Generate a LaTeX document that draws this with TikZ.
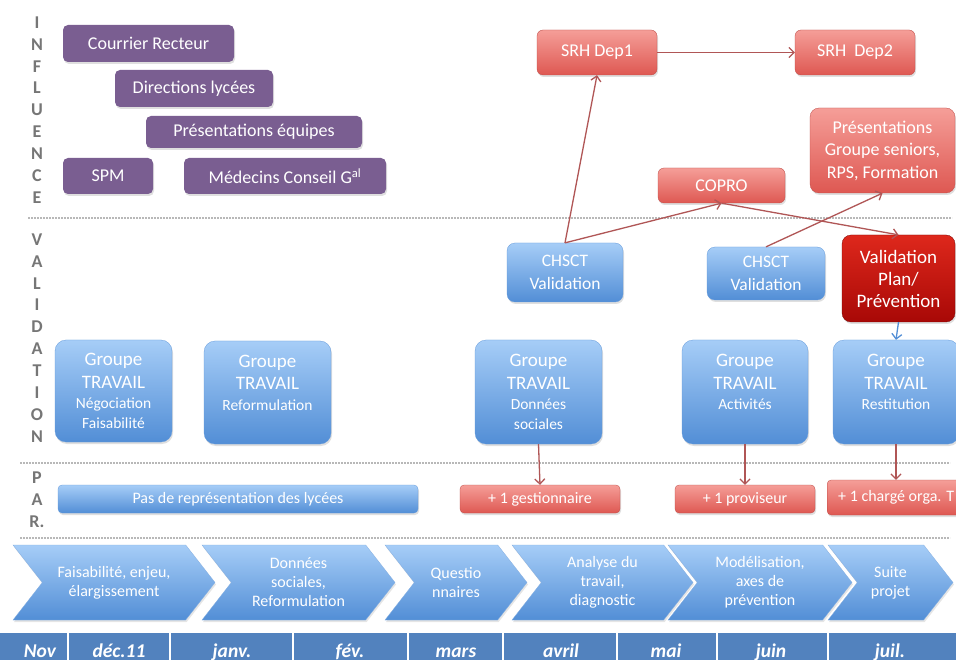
\documentclass[tikz,border=0pt]{standalone}
\usepackage{fontspec}
\setmainfont{Carlito}
\usetikzlibrary{calc,shapes,shapes.symbols,shadows,arrows,arrows.meta}

\definecolor{mauvebox}{RGB}{122,94,145}
\definecolor{rougeclair}{RGB}{245,158,152}
\definecolor{rougefonce}{RGB}{222,88,82}
\definecolor{rougevif}{RGB}{222,40,28}
\definecolor{rougesombre}{RGB}{168,8,6}
\definecolor{bleuclair}{RGB}{166,205,247}
\definecolor{bleufonce}{RGB}{82,142,214}
\definecolor{moisbleu}{RGB}{82,130,190}
\definecolor{flechecol}{RGB}{176,86,86}
\definecolor{lettres}{RGB}{118,118,118}
\newcommand{\petitfont}{\fontsize{15.5}{19}\selectfont}

\begin{document}
\begin{tikzpicture}[x=1pt,y=-1pt,>={Straight Barb[length=5pt,width=10pt]},
  sidelab/.style={text=lettres, font=\fontsize{18}{21.9}\bfseries\selectfont, align=center, inner sep=0pt},
  mauve/.style={rectangle, rounded corners=5pt, fill=mauvebox, text=white, inner sep=0pt,
    font=\fontsize{18}{22}\selectfont, drop shadow={opacity=0.25,shadow xshift=1pt,shadow yshift=-2pt}},
  rouge/.style={rectangle, rounded corners=6pt, top color=rougeclair, bottom color=rougefonce,
    draw=rougefonce!85!black, line width=0.3pt, text=white, inner sep=0pt, align=center,
    font=\fontsize{18}{22.5}\selectfont, drop shadow={opacity=0.25,shadow xshift=1pt,shadow yshift=-2pt}},
  rougeplan/.style={rouge, rounded corners=9pt, top color=rougevif, bottom color=rougesombre,
    draw=rougesombre!70!black, font=\fontsize{19}{22}\selectfont},
  bleu/.style={rectangle, rounded corners=8pt, top color=bleuclair, bottom color=bleufonce,
    draw=bleufonce!90, line width=0.3pt, text=white, inner sep=0pt, align=center,
    font=\fontsize{17.5}{23}\selectfont, drop shadow={opacity=0.25,shadow xshift=1pt,shadow yshift=-2pt}},
  groupe/.style={bleu, rounded corners=11pt, font=\fontsize{19}{22.5}\selectfont},
  barre/.style={bleu, rounded corners=4pt, font=\fontsize{16}{19}\selectfont},
  petitrouge/.style={rouge, rounded corners=4pt, font=\fontsize{16}{19}\selectfont},
  etape/.style={signal, signal from=west, signal to=east, signal pointer angle=104,
    top color=bleuclair, bottom color=bleufonce, draw=bleufonce!70, line width=0.3pt,
    text=white, inner sep=0pt, align=center, minimum height=75pt,
    font=\fontsize{16}{19}\selectfont, drop shadow={opacity=0.2,shadow xshift=1pt,shadow yshift=-2pt}},
  mois/.style={text=white, font=\fontsize{19.5}{22}\bfseries\itshape\selectfont, inner sep=0pt, anchor=base},
  sep/.style={draw=black!28, dash pattern=on 2pt off 1pt, line width=1.4pt},
  fleche/.style={draw=flechecol, line width=1.3pt, ->}
]
  \useasboundingbox (0,0) rectangle (956,660);
  \clip (0,0) rectangle (956,660);
  \fill[white] (0,0) rectangle (956,660);

  % bandes
  \node[sidelab] (infl) at (37,110) {I\\N\\F\\L\\U\\E\\N\\C\\E};
  \node[sidelab] (valid) at (37,338) {V\\A\\L\\I\\D\\A\\T\\I\\O\\N};
  \node[sidelab] (par) at (37,500) {P\\A\\R.};
  \draw[sep] (28,218) -- (952,218);
  \draw[sep] (20,463) -- (950,463);
  \draw[sep] (20,538) -- (950,538);

  % influence
  \node[mauve, minimum width=171pt, minimum height=37pt] (courrier) at (148.5,43.5) {Courrier Recteur};
  \node[mauve, minimum width=158pt, minimum height=37pt] (directions) at (194,88.5) {Directions lycées};
  \node[mauve, minimum width=216pt, minimum height=32pt] (presequipes) at (254,132) {Présentations équipes};
  \node[mauve, minimum width=90pt, minimum height=36pt] (spm) at (108,176) {SPM};
  \node[mauve, minimum width=202pt, minimum height=36pt] (medecins) at (285,176) {Médecins Conseil G\textsuperscript{al}};

  \node[rouge, minimum width=120pt, minimum height=45pt] (srhA) at (597,52.5) {SRH Dep1};
  \node[rouge, minimum width=120pt, minimum height=45pt] (srhB) at (855,52.5) {SRH~~Dep2};
  \node[rouge, rounded corners=9pt, minimum width=145pt, minimum height=85pt] (presgroupe) at (882.5,150.5) {Présentations\\Groupe seniors,\\RPS, Formation};
  \node[rouge, minimum width=127pt, minimum height=35pt] (copro) at (721.5,185.5) {COPRO};

  % validation
  \node[bleu, minimum width=116pt, minimum height=59pt] (chsctA) at (565,272.5) {CHSCT\\Validation};
  \node[bleu, minimum width=118pt, minimum height=53pt] (chsctB) at (766,273.5) {CHSCT\\Validation};
  \node[rougeplan, minimum width=113pt, minimum height=87pt] (valplan) at (898.5,278.5) {Validation\\Plan/\\Prévention};

  \node[groupe, minimum width=117pt, minimum height=102pt] (grpA) at (113.5,391) {Groupe\\TRAVAIL\\[-2pt]{\petitfont Négociation}\\[-3pt]{\petitfont Faisabilité}};
  \node[groupe, minimum width=127pt, minimum height=103pt] (grpB) at (267.5,392.5) {Groupe\\TRAVAIL\\[-2pt]{\petitfont Reformulation}\\[-3pt]~};
  \node[groupe, minimum width=127pt, minimum height=104pt] (grpC) at (538.5,392) {Groupe\\TRAVAIL\\[-2pt]{\petitfont Données}\\[-3pt]{\petitfont sociales}};
  \node[groupe, minimum width=126pt, minimum height=104pt] (grpD) at (745,392) {Groupe\\TRAVAIL\\[-2pt]{\petitfont Activités}\\[-3pt]~};
  \node[groupe, minimum width=126pt, minimum height=104pt] (grpE) at (896,392) {Groupe\\TRAVAIL\\[-2pt]{\petitfont Restitution}\\[-3pt]~};

  % participation
  \node[barre, minimum width=360pt, minimum height=28pt] (pasrep) at (238,499) {Pas de représentation des lycées};
  \node[petitrouge, minimum width=160pt, minimum height=28pt] (gest) at (540,499) {+ 1 gestionnaire};
  \node[petitrouge, minimum width=140pt, minimum height=28pt] (prov) at (745,499) {+ 1 proviseur};
  \node[petitrouge, minimum width=138pt, minimum height=35pt, anchor=west] (charge) at (827,497.5) {+ 1 chargé orga. T};

  % fleches
  \draw[fleche] (srhA) -- (srhB);
  \draw[fleche] (chsctA.north) -- (srhA.south);
  \draw[fleche] (chsctA.north) -- (copro.south);
  \draw[fleche] (copro.south) -- (valplan.north);
  \draw[fleche] (chsctB.north) -- (presgroupe.south);
  \draw[draw=bleufonce, line width=1.3pt, ->] (valplan.south) -- (grpE.north);
  \draw[fleche] (grpC.south) -- (gest.north);
  \draw[fleche] (grpD.south) -- (prov.north);
  \draw[fleche] (grpE.south) -- (grpE.south |- charge.north);

  % etapes
  \node[etape, minimum width=202pt] (etA) at (114,582.5) {Faisabilité, enjeu,\\élargissement};
  \node[etape, minimum width=193pt] (etB) at (298.5,582.5) {Données\\sociales,\\Reformulation};
  \node[etape, minimum width=142pt] (etC) at (456,582.5) {Questio\\nnaires};
  \node[etape, minimum width=181pt] (etD) at (602.5,582.5) {Analyse du\\travail,\\diagnostic};
  \node[etape, minimum width=184pt] (etE) at (760,582.5) {Modélisation,\\axes de\\prévention};
  \node[etape, minimum width=125pt] (etF) at (890.5,582.5) {Suite\\projet};

  % mois
  \fill[moisbleu] (0,633) rectangle (956,662);
  \foreach \x in {68,170,293,408,503,617,717,828}
    \draw[white, line width=2.5pt] (\x,633) -- (\x,662);
  \node[mois] (nov) at (40,657) {Nov};
  \node[mois] (dec) at (119,657) {déc.11};
  \node[mois] (janv) at (232,657) {janv.};
  \node[mois] (fev) at (350,657) {fév.};
  \node[mois] (mars) at (456,657) {mars};
  \node[mois] (avril) at (561,657) {avril};
  \node[mois] (mai) at (666,657) {mai};
  \node[mois] (juin) at (771,657) {juin};
  \node[mois] (juil) at (890,657) {juil.};
\end{tikzpicture}
\end{document}
